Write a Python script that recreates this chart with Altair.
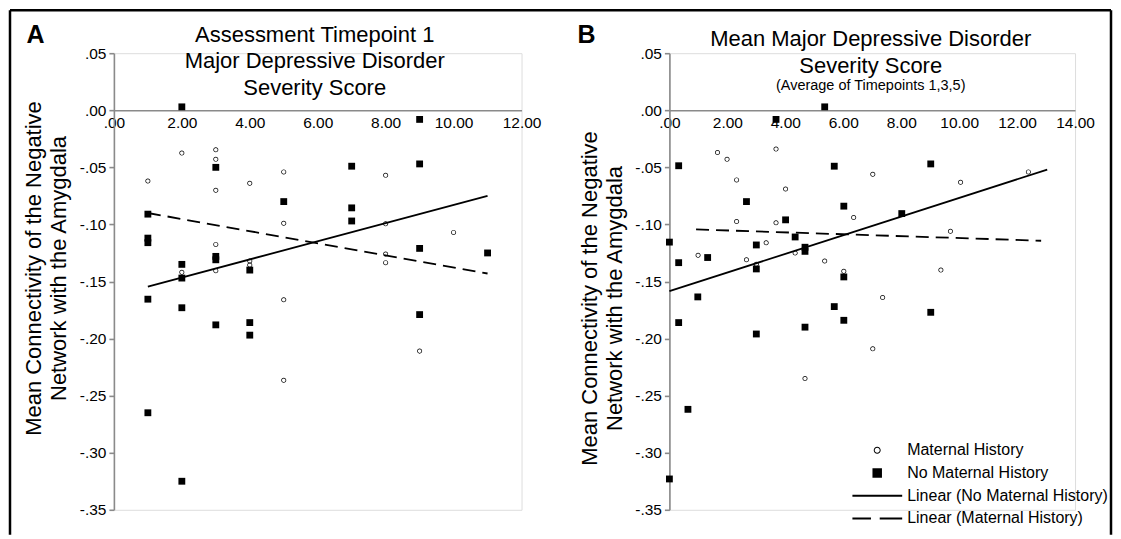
import altair as alt
import pandas as pd

FONT = "Liberation Sans"

# ---------------- Panel A : Assessment Timepoint 1 ----------------
a_mat_x = [1, 2, 3, 3, 3, 4, 5, 5, 8, 8, 8, 8, 10, 3, 3, 2, 4, 4, 5, 5, 9]
a_mat_y = [-0.062, -0.0375, -0.0346, -0.043, -0.070, -0.064, -0.054, -0.099,
           -0.057, -0.0995, -0.126, -0.1335, -0.107, -0.1175, -0.1405, -0.142,
           -0.132, -0.1355, -0.166, -0.2365, -0.211]
a_nomat_x = [2, 9, 3, 7, 9, 5, 7, 7, 1, 1, 1, 9, 11, 2, 3, 3, 4, 1, 2, 2, 3, 4, 4, 1, 2, 9]
a_nomat_y = [0.003, -0.008, -0.050, -0.049, -0.047, -0.080, -0.0855, -0.097,
             -0.091, -0.112, -0.116, -0.121, -0.125, -0.135, -0.128, -0.131,
             -0.140, -0.1655, -0.147, -0.173, -0.188, -0.186, -0.197, -0.265,
             -0.325, -0.179]
a_fit_nomat_x = [1, 11]
a_fit_nomat_y = [-0.1545, -0.075]
a_fit_mat_x = [1, 11]
a_fit_mat_y = [-0.090, -0.143]

# ---------------- Panel B : mean of timepoints 1,3,5 ----------------
b_mat_x = [1.66, 1.99, 2.32, 3.68, 4.01, 7.02, 10.05, 12.39, 2.32, 3.68, 6.36,
           9.70, 3.34, 0.99, 2.66, 4.34, 5.36, 3.00, 6.02, 7.36, 7.02, 4.68, 9.37]
b_mat_y = [-0.037, -0.043, -0.061, -0.034, -0.069, -0.056, -0.063, -0.054,
           -0.0975, -0.0986, -0.094, -0.106, -0.116, -0.127, -0.131, -0.125,
           -0.132, -0.135, -0.141, -0.164, -0.209, -0.235, -0.140]
b_nomat_x = [5.36, 3.68, 0.32, 5.69, 9.02, 2.66, 6.02, 8.02, 4.01, 0.00, 4.34,
             3.00, 4.68, 4.68, 0.32, 1.32, 3.00, 0.98, 0.32, 0.64, 3.00, 4.68,
             5.69, 6.02, 6.02, 9.02, 0.00]
b_nomat_y = [0.003, -0.008, -0.0486, -0.049, -0.047, -0.080, -0.084, -0.0905,
             -0.096, -0.1155, -0.111, -0.118, -0.120, -0.1236, -0.1335, -0.129,
             -0.139, -0.1635, -0.186, -0.262, -0.196, -0.190, -0.172, -0.146,
             -0.184, -0.177, -0.323]
b_fit_nomat_x = [0.0, 13.04]
b_fit_nomat_y = [-0.1585, -0.052]
b_fit_mat_x = [0.92, 12.83]
b_fit_mat_y = [-0.1044, -0.1143]

SERIES = ["Maternal History", "No Maternal History",
          "Linear (No Maternal History)", "Linear (Maternal History)"]

y_ticks = [0.05, 0.0, -0.05, -0.10, -0.15, -0.20, -0.25, -0.30, -0.35]
a_x_ticks = [0, 2, 4, 6, 8, 10, 12]
b_x_ticks = [0, 2, 4, 6, 8, 10, 12, 14]

# symbol paths (unit coords, scaled by sqrt(size)/2)
RING = ("M0.14,0 A0.14,0.14 0 1,1 -0.14,0 A0.14,0.14 0 1,1 0.14,0 Z "
        "M0.10,0 A0.10,0.10 0 1,0 -0.10,0 A0.10,0.10 0 1,0 0.10,0 Z")
SQUARE = "M-0.19,-0.19H0.19V0.19H-0.19Z"
SOLID = "M-1,-0.04H1V0.04H-1Z"
DASHED = "M-1,-0.04H-0.25V0.04H-1Z M0.1,-0.04H1V0.04H0.1Z"

shape_scale = alt.Scale(domain=SERIES, range=[RING, SQUARE, SOLID, DASHED])

W_A, W_B, H = 408, 406, 457
ZERO_PX = H * 0.05 / 0.40
AXIS_GRAY = "#8a8a8a"
MINUS = "\u2212"


def points_df(xm, ym, xn, yn):
    return pd.DataFrame({
        "x": list(xm) + list(xn),
        "y": list(ym) + list(yn),
        "series": [SERIES[0]] * len(xm) + [SERIES[1]] * len(xn),
    })


def line_df(xs, ys, name):
    return pd.DataFrame({"x": xs, "y": ys, "series": [name] * len(xs)})


def x_axis(ticks):
    return alt.Axis(
        values=ticks, orient="bottom", offset=-(H - ZERO_PX), title=None,
        labelExpr="datum.value == 0 ? '.00' : format(datum.value, '.2f')",
        labelFont=FONT, labelFontSize=15.5, labelColor="black", labelPadding=5,
        ticks=False, grid=False, domainColor=AXIS_GRAY, domainWidth=1.6,
        labelFlush=False, labelOverlap=False,
    )


def y_axis(title_y):
    return alt.Axis(
        values=y_ticks, title=["Mean Connectivity of the Negative", "Network with the Amygdala"],
        labelExpr="replace(replace(format(datum.value, '.2f'), '0.', '.'), '" + MINUS + "', '-')",
        labelFont=FONT, labelFontSize=15.5, labelColor="black", labelPadding=3,
        tickSize=5, tickColor=AXIS_GRAY, tickWidth=1.6, grid=False,
        domainColor=AXIS_GRAY, domainWidth=1.6,
        titleFont=FONT, titleFontSize=22, titleFontWeight="normal", titleColor="black",
        titleLineHeight=25, titlePadding=8.5, titleY=title_y,
        labelOverlap=False, labelFlush=False,
    )


def panel(xm, ym, xn, yn, fit_n, fit_m, xmax, xticks, letter, letter_x, title_y, show_legend):
    pts = points_df(xm, ym, xn, yn)
    xs = alt.Scale(domain=[0, xmax], nice=False, zero=False)
    ys = alt.Scale(domain=[-0.35, 0.05], nice=False, zero=False)
    if show_legend:
        legend = alt.Legend(
            title=None, orient="none", legendX=183, legendY=387.5, columns=1,
            symbolSize=2500, clipHeight=20, rowPadding=2.7, labelOffset=5,
            labelFont=FONT, labelFontSize=16, labelColor="black", padding=0,
            labelLimit=400, symbolFillColor="black", symbolStrokeWidth=0,
            symbolOpacity=1,
        )
    else:
        legend = None
    base_pts = alt.Chart(pts).mark_point(
        filled=True, color="black", size=1296, opacity=1, strokeWidth=0
    ).encode(
        x=alt.X("x:Q", scale=xs, axis=x_axis(xticks)),
        y=alt.Y("y:Q", scale=ys, axis=y_axis(title_y)),
        shape=alt.Shape("series:N", scale=shape_scale, legend=legend),
    )
    solid = alt.Chart(line_df(fit_n[0], fit_n[1], SERIES[2])).mark_line(
        color="black", strokeWidth=1.8
    ).encode(x=alt.X("x:Q", scale=xs), y=alt.Y("y:Q", scale=ys))
    dashed = alt.Chart(line_df(fit_m[0], fit_m[1], SERIES[3])).mark_line(
        color="black", strokeWidth=1.8, strokeDash=[13, 7]
    ).encode(x=alt.X("x:Q", scale=xs), y=alt.Y("y:Q", scale=ys))
    lab = alt.Chart(pd.DataFrame({"t": [letter]})).mark_text(
        font=FONT, fontSize=25, fontWeight="bold", color="black", align="center", baseline="middle"
    ).encode(x=alt.value(letter_x), y=alt.value(-18), text="t:N")
    return [solid, dashed, base_pts, lab]


layers_a = panel(a_mat_x, a_mat_y, a_nomat_x, a_nomat_y,
                 (a_fit_nomat_x, a_fit_nomat_y), (a_fit_mat_x, a_fit_mat_y),
                 12, a_x_ticks, "A", -78.5, 215, False)
title_a = alt.TitleParams(
    text=["Assessment Timepoint 1", "Major Depressive Disorder", "Severity Score"],
    font=FONT, fontSize=22, fontWeight="normal", color="black",
    lineHeight=26.5, anchor="middle", frame="group", offset=-91, dx=-3)

# outer frame (decoration)
one = pd.DataFrame({"k": [0]})
frame_top = alt.Chart(one).mark_rule(color="black", strokeWidth=2.5).encode(
    x=alt.value(-104), x2=alt.value(998), y=alt.value(-43), y2=alt.value(-43))
frame_left = alt.Chart(one).mark_rule(color="black", strokeWidth=2.5).encode(
    x=alt.value(-104), x2=alt.value(-104), y=alt.value(-43), y2=alt.value(482))
frame_right = alt.Chart(one).mark_rule(color="black", strokeWidth=2.5).encode(
    x=alt.value(998), x2=alt.value(998), y=alt.value(-43), y2=alt.value(482))

chart_a = alt.layer(*layers_a, frame_top, frame_left, frame_right).properties(
    width=W_A, height=H, title=title_a)

layers_b = panel(b_mat_x, b_mat_y, b_nomat_x, b_nomat_y,
                 (b_fit_nomat_x, b_fit_nomat_y), (b_fit_mat_x, b_fit_mat_y),
                 14, b_x_ticks, "B", -83, 245, True)
title_b = alt.TitleParams(
    text=["Mean Major Depressive Disorder", "Severity Score"],
    subtitle="(Average of Timepoints 1,3,5)",
    font=FONT, fontSize=22, fontWeight="normal", color="black",
    lineHeight=26.5, subtitleFont=FONT, subtitleFontSize=14.5,
    subtitleColor="black", subtitlePadding=1.25,
    anchor="middle", frame="group", offset=-70.5, dx=-1.5)
chart_b = alt.layer(*layers_b).properties(width=W_B, height=H, title=title_b)

chart = alt.hconcat(chart_a, chart_b, spacing=148, bounds="flush").resolve_scale(
    shape="independent", x="independent", y="independent"
).properties(padding=0).configure_view(stroke=None).configure(background="white")

chart.save("out.html", embed_options={"renderer": "svg", "actions": False})
